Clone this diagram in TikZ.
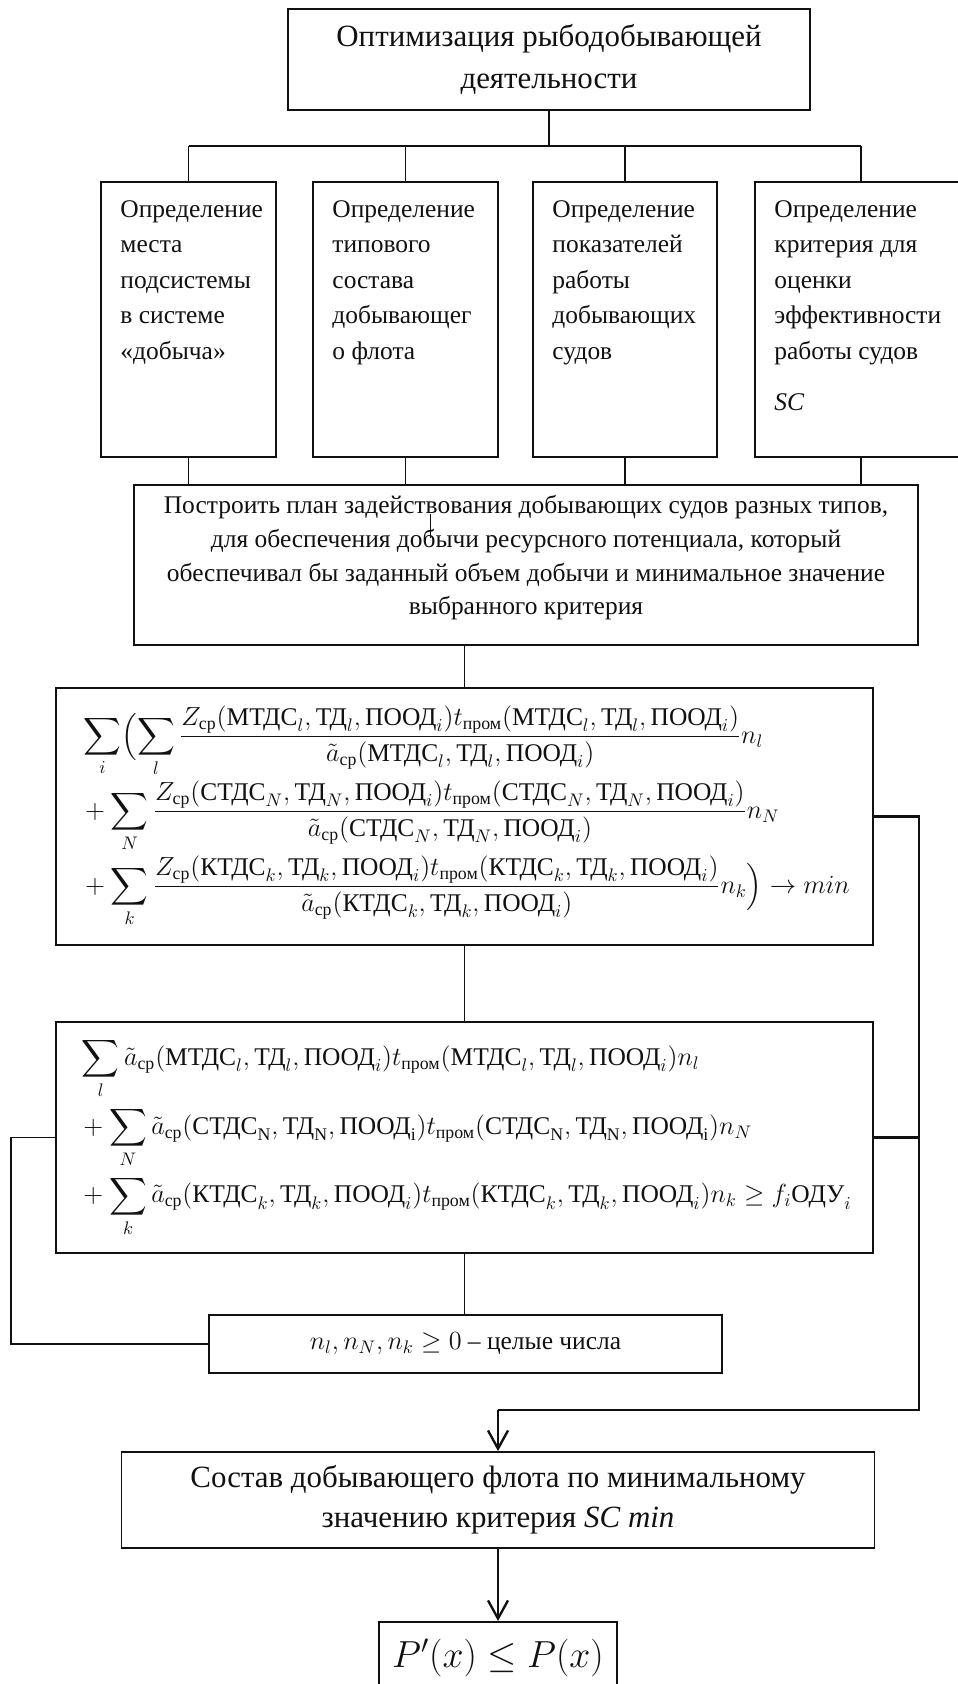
\documentclass[tikz,border=0pt]{standalone}
\usepackage{amsmath}
\usepackage{fontspec}
\setmainfont{Liberation Serif}
\usetikzlibrary{calc,positioning,arrows.meta}
\definecolor{ink}{HTML}{111111}
\definecolor{paper}{HTML}{FFFFFF}
\newcommand{\upx}{0.55pt}
\newcommand{\rtx}[1]{\text{#1}}
% argument groups of the vessel types
\newcommand{\grpl}{(\rtx{МТДС}_{l},\rtx{ТД}_{l},\rtx{ПООД}_{i})}
\newcommand{\grpN}{(\rtx{СТДС}_{N},\rtx{ТД}_{N},\rtx{ПООД}_{i})}
\newcommand{\grpNu}{(\rtx{СТДС}_{\mathrm{N}},\rtx{ТД}_{\mathrm{N}},\rtx{ПООД}_{\mathrm{i}})}
\newcommand{\grpk}{(\rtx{КТДС}_{k},\rtx{ТД}_{k},\rtx{ПООД}_{i})}
\newcommand{\Zcp}{Z_{\rtx{ср}}}
\newcommand{\acp}{\tilde{a}_{\rtx{ср}}}
\newcommand{\tprom}{t_{\rtx{пром}}}
\tikzset{
  blockbox/.style={
    draw=ink,
    line width=1pt,
    fill=paper,
    inner sep=2pt
  },
  taskbox/.style={
    blockbox,
    minimum height=275*\upx
  },
  boxtext/.style={
    font=\fontsize{14}{19.5}\selectfont,
    text=ink,
    align=left,
    inner sep=0pt,
    anchor=north west
  },
  headtext/.style={
    font=\fontsize{17}{23}\selectfont,
    text=ink,
    align=center
  },
  plaintext/.style={
    font=\fontsize{14}{18.5}\selectfont,
    text=ink,
    align=center
  },
  mathtext/.style={
    font=\fontsize{14}{17}\selectfont,
    text=ink
  },
  link/.style={draw=ink, line width=0.9pt},
  thinlink/.style={draw=ink, line width=0.6pt},
  thicklink/.style={draw=ink, line width=1.3pt},
  flowarrow/.style={
    thicklink,
    -{Straight Barb[length=10pt,width=11pt]}
  }
}

\begin{document}
\begin{tikzpicture}[x=\upx,y=-\upx]

% Background
\path[use as bounding box, fill=paper] (0,0) rectangle (957,1684);

% ---------- Goal ----------
\node[blockbox, headtext, minimum width=522*\upx, minimum height=101*\upx]
  (opt) at (549,59.5) {Оптимизация рыбодобывающей\\деятельности};

% ---------- Four tasks ----------
\node[taskbox, minimum width=175*\upx] (b1) at (188.5,319.5) {};
\node[taskbox, minimum width=185*\upx] (b2) at (405.5,319.5) {};
\node[taskbox, minimum width=184*\upx] (b3) at (625,319.5) {};
\node[taskbox, minimum width=212*\upx] (b4) at (861,319.5) {};

\node[boxtext] (t1) at ($(b1.north west)+(20,19)$)
  {Определение\\места\\подсистемы\\в системе\\«добыча»};
\node[boxtext] (t2) at ($(b2.north west)+(20,19)$)
  {Определение\\типового\\состава\\добывающег\\о флота};
\node[boxtext] (t3) at ($(b3.north west)+(20,19)$)
  {Определение\\показателей\\работы\\добывающих\\судов};
\node[boxtext] (t4) at ($(b4.north west)+(20,19)$)
  {Определение\\критерия для\\оценки\\эффективности\\работы судов\\[9pt]\textit{SC}};

\coordinate (bar) at (549,146);
\draw[link] (opt.south) -- (bar);
\draw[link] (b1.north |- bar) -- (b4.north |- bar);
\foreach \i in {1,...,4}
  \draw[link] (b\i.north |- bar) -- (b\i.north);

% ---------- Plan ----------
\node[blockbox, minimum width=784*\upx, minimum height=160*\upx] (plan) at (526,565) {};
\node[plaintext] (plantext) at (526,558)
  {Построить план задействования добывающих судов разных типов,\\
   для обеспечения добычи ресурсного потенциала, который\\
   обеспечивал бы заданный объем добычи и минимальное значение\\
   выбранного критерия};

\foreach \i in {1,...,4}
  \draw[thinlink] (b\i.south) -- (b\i.south |- plan.north);

% ---------- Objective ----------
\node[blockbox, mathtext, minimum width=817*\upx, minimum height=257*\upx]
  (obj) at (464.5,816.5) {$\begin{aligned}
  &\sum_{i}\Bigl(\sum_{l}\frac{\Zcp\grpl\tprom\grpl}{\acp\grpl}n_{l}\\[-2pt]
  &+\sum_{N}\frac{\Zcp\grpN\tprom\grpN}{\acp\grpN}n_{N}\\[-2pt]
  &+\sum_{k}\frac{\Zcp\grpk\tprom\grpk}{\acp\grpk}n_{k}\Bigr)\rightarrow min
  \end{aligned}$};

% stray stub inside the plan box
\draw[thinlink] ($(plan.north -| obj.north)+(-34,30)$) -- ++(0,24);
\draw[thinlink] (plan.south -| obj.north) -- (obj.north);

% ---------- Constraint ----------
\node[blockbox, mathtext, minimum width=817*\upx, minimum height=231*\upx]
  (cons) at (464.5,1137.5) {$\begin{aligned}
  &\sum_{l}\acp\grpl\tprom\grpl n_{l}\\
  &+\sum_{N}\acp\grpNu\tprom\grpNu n_{N}\\
  &+\sum_{k}\acp\grpk\tprom\grpk n_{k}\geq f_{i}\rtx{ОДУ}_{i}
  \end{aligned}$};

\draw[thinlink] (obj.south) -- (cons.north);

\node[blockbox, plaintext, minimum width=513*\upx, minimum height=58*\upx]
  (nbox) at (465.5,1344) {$n_{l},n_{N},n_{k}\geq 0$ – целые числа};

\draw[thinlink] (cons.south) -- (cons.south |- nbox.north);
\draw[link] (cons.west) -- ++(-44,0) |- (nbox.west);

% ---------- Result ----------
\node[blockbox, headtext, font=\fontsize{17}{22}\selectfont,
  minimum width=753*\upx, minimum height=96*\upx]
  (sostav) at (498,1500)
  {Состав добывающего флота по минимальному\\значению критерия \textit{SC min}};

\node[blockbox, mathtext, font=\fontsize{20}{24}\selectfont,
  minimum width=238*\upx, minimum height=72*\upx, anchor=north]
  (pbox) at (498,1621) {$P'(x)\leq P(x)$};

\coordinate (rx) at ($(obj.east)+(45,0)$);
\coordinate (drop) at ($(sostav.north)+(0,-41)$);
\draw[thicklink] (obj.east) -- (rx) |- (drop);
\draw[thicklink] (cons.east) -- (cons.east -| rx);
\draw[flowarrow] (drop) -- (sostav.north);
\draw[flowarrow] (sostav.south) -- (pbox.north);

\end{tikzpicture}
\end{document}
